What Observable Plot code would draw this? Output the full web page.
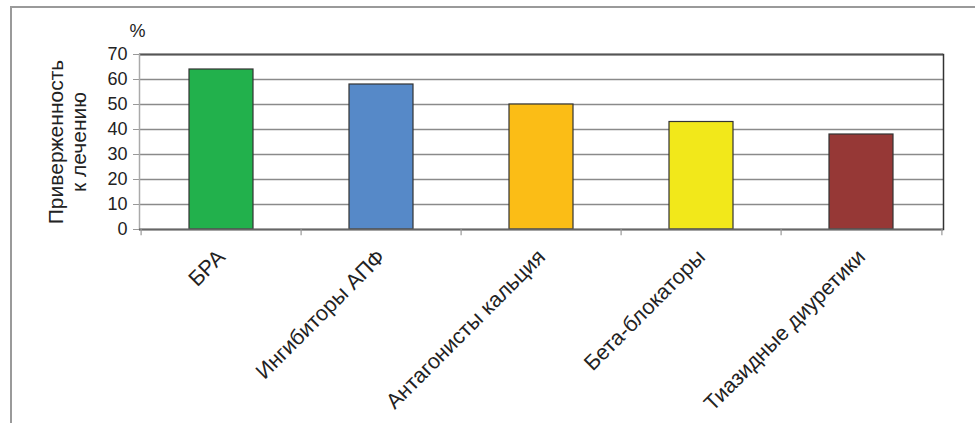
<!DOCTYPE html>
<html>
<head>
<meta charset="utf-8">
<script src="https://cdn.jsdelivr.net/npm/d3@7"></script>
<script src="https://cdn.jsdelivr.net/npm/@observablehq/plot@0.6"></script>
<style>
  html, body { margin: 0; padding: 0; background: #fff; }
  #wrap { position: relative; width: 975px; height: 423px; overflow: hidden; }
  #border { position: absolute; left: 10px; top: 6px; right: -10px; bottom: -10px;
            border-top: 2px solid #9a9a9a; border-left: 2px solid #9a9a9a; }
  #chart { position: absolute; left: 0; top: 0; }
</style>
</head>
<body>
<div id="wrap"><div id="border"></div><div id="chart"></div></div>
<script>
const categories = ["БРА", "Ингибиторы АПФ", "Антагонисты кальция", "Бета-блокаторы", "Тиазидные диуретики"];
const values = [64, 58, 50, 43, 38];
const colors = ["#22b14c", "#5689c8", "#fbbd16", "#f2e81a", "#963836"];
const yTicks = [0, 10, 20, 30, 40, 50, 60, 70];
const yLabel = "Приверженность\nк лечению";
const unitLabel = "%";

const data = categories.map((c, i) => ({category: c, value: values[i], color: colors[i]}));

const W = 975, H = 423, mL = 139, mR = 32, mT = 54, mB = 194;
const halfStep = (W - mL - mR) / categories.length / 2;

const chart = Plot.plot({
  width: W, height: H,
  marginLeft: mL, marginRight: mR, marginTop: mT, marginBottom: mB,
  style: {fontFamily: "'Liberation Sans', Arial, Helvetica, sans-serif", fontSize: "17px", color: "#222", background: "transparent", overflow: "visible"},
  x: {domain: categories, paddingInner: 0.6, paddingOuter: 0.3, label: null},
  y: {domain: [0, 70], label: null},
  marks: [
    Plot.gridY(yTicks, {stroke: "#8a8a8a", strokeOpacity: 1, strokeWidth: 1.6}),
    Plot.ruleY([70], {stroke: "#555", strokeWidth: 1.8}),
    Plot.frame({anchor: "left", stroke: "#aaa", strokeWidth: 1.5}),
    Plot.frame({anchor: "right", stroke: "#333", strokeWidth: 1.5}),
    Plot.barY(data, {x: "category", y: "value", fill: "color", stroke: "#333", strokeWidth: 1.2}),
    Plot.ruleY([0], {stroke: "#666", strokeWidth: 1.8}),
    Plot.ruleX(categories, {x: d => d, dx: -halfStep, y1: 0, y2: -2.5, stroke: "#999", strokeWidth: 1.2}),
    Plot.ruleX(categories.slice(-1), {x: d => d, dx: halfStep, y1: 0, y2: -2.5, stroke: "#999", strokeWidth: 1.2}),
    Plot.axisY(yTicks, {tickSize: 6, tickPadding: 6, fontSize: 18, stroke: "#999", label: null}),
    Plot.axisX({tickSize: 0, tickPadding: 24, tickRotate: -45, fontSize: 21.5, label: null}),
    Plot.text([yLabel], {text: d => d, frameAnchor: "left", textAnchor: "middle", lineAnchor: "middle", dx: -72, rotate: -90, fontSize: 21, lineHeight: 1.1, fill: "#222"}),
    Plot.text([unitLabel], {text: d => d, frameAnchor: "top-left", textAnchor: "middle", lineAnchor: "middle", dx: -2, dy: -23, fontSize: 18, fill: "#222"})
  ]
});
document.getElementById("chart").appendChild(chart);
</script>
</body>
</html>
